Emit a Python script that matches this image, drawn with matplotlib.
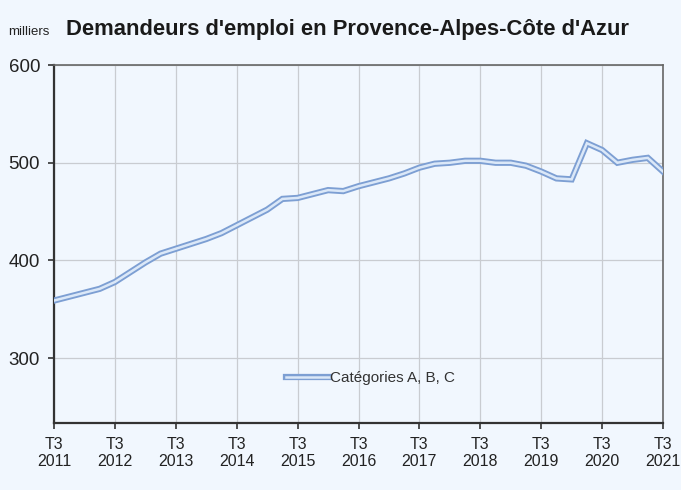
import matplotlib
matplotlib.use("Agg")
import matplotlib.pyplot as plt

# demandeurs d'emploi cat. A, B, C (milliers), trimestriel T3 2011 -> T3 2021
valeurs = [359, 363, 367, 371, 378, 388, 398, 407, 412, 417, 422, 428,
           436, 444, 452, 463, 464, 468, 472, 471, 476, 480, 484, 489,
           495, 499, 500, 502, 502, 500, 500, 497, 491, 484, 483, 520,
           513, 500, 503, 505, 491]
annees = list(range(2011, 2022))
yticks = [300, 400, 500, 600]

fond = '#f1f7fe'
bord = '#7d9fd3'
centre = '#dbe8f8'
plt.rcParams['font.family'] = ['Liberation Sans', 'DejaVu Sans']

fig = plt.figure(figsize=(6.81, 4.90), dpi=100, facecolor=fond)
ax = fig.add_axes([0.0793, 0.1367, 0.8943, 0.7306], facecolor=fond)

x = list(range(len(valeurs)))
l1, = ax.plot(x, valeurs, color=bord, lw=4.5, solid_joinstyle='miter', zorder=3)
l2, = ax.plot(x, valeurs, color=centre, lw=1.8, solid_joinstyle='miter', zorder=4)

ax.set_xlim(0, 40)
ax.set_ylim(233.7, 600)

xt = [4 * i for i in range(len(annees))]
ax.set_xticks(xt)
ax.set_xticklabels(['T3\n%d' % a for a in annees], fontsize=11.5, color='#222222',
                   linespacing=1.2)
ax.set_yticks(yticks)
ax.set_yticklabels([str(v) for v in yticks], fontsize=13.5, color='#222222')

ax.grid(True, color='#c9ccd1', lw=0.9, zorder=0)
ax.set_axisbelow(True)
for s in ['left', 'bottom']:
    ax.spines[s].set_color('#333333')
    ax.spines[s].set_linewidth(1.6)
for s in ['top', 'right']:
    ax.spines[s].set_color('#666666')
    ax.spines[s].set_linewidth(1.2)
ax.tick_params(axis='both', direction='out', length=4, width=1.2, color='#333333')
ax.tick_params(axis='x', pad=6)
ax.tick_params(axis='y', pad=6)

ax.legend([(l1, l2)], ['Catégories A, B, C'], loc='center',
          bbox_to_anchor=(0.52, 0.126), frameon=False, fontsize=11,
          handlelength=2.8, handletextpad=0.1, labelcolor='#333333')

fig.text(0.012, 0.929, 'milliers', fontsize=9.5, color='#222222', va='baseline')
fig.text(0.097, 0.929, "Demandeurs d'emploi en Provence-Alpes-Côte d'Azur",
         fontsize=15.8, fontweight='bold', color='#1a1a1a', va='baseline')

fig.savefig('out.png', dpi=100, facecolor=fond)
